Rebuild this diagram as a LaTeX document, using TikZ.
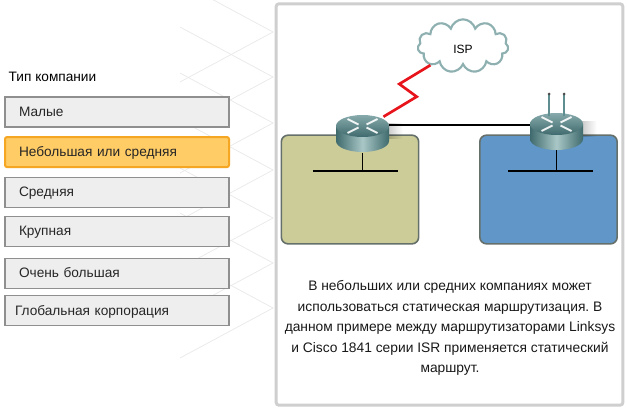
\documentclass[tikz,border=0pt]{standalone}
\usepackage{fontspec}
\setmainfont{Liberation Sans}
\usetikzlibrary{positioning, shapes.symbols, fadings}
\frenchspacing

\definecolor{panelgray}{HTML}{CFCFCF}
\definecolor{boxgray}{HTML}{EEEEEE}
\definecolor{boxline}{HTML}{8F8F8F}
\definecolor{picked}{HTML}{FFCC66}
\definecolor{pickedline}{HTML}{F5A623}
\definecolor{lanolive}{HTML}{CCCC99}
\definecolor{lanblue}{HTML}{6096C8}
\definecolor{lanline}{HTML}{66706A}
\definecolor{routerdark}{HTML}{3F6A6D}
\definecolor{routerlight}{HTML}{A9C7C6}
\definecolor{routertop}{HTML}{5F8E90}
\definecolor{cloudline}{HTML}{8FB0B0}
\definecolor{wanred}{HTML}{E8141C}

\tikzset{
    company/.style={draw=boxline, line width=0.9pt, fill=boxgray, minimum width=168pt, minimum height=22.5pt, font=\fontsize{10.25}{12}\selectfont, text=black!85, align=left, inner xsep=10.5pt, text width=147pt, text height=9pt, text depth=2.5pt},
    chosen/.style={company, draw=pickedline, fill=picked, rounded corners=1.5pt, line width=1.5pt},
    lan/.style={draw=lanline, line width=1.2pt, rounded corners=5pt, minimum width=103pt, minimum height=81.5pt},
    spot/.style={inner sep=0pt, minimum width=40pt, minimum height=28.5pt},
    wire/.style={line width=1.2pt, black},
    routerpic/.pic={
        \fill[black, opacity=.28, path fading=east] (20,-3) rectangle (40,13);
        \shade[left color=routerdark, right color=routerdark, middle color=routerlight] (-26.5,0) -- (-26.5,15) arc[start angle=180, end angle=0, x radius=26.5, y radius=11] -- (26.5,0) -- cycle;
        \shade[top color=routertop!75!white, bottom color=routerdark] (0,0) ellipse[x radius=26.5, y radius=11];
        \foreach \sx/\sy in {1/1, -1/1, 1/-1, -1/-1}
            \draw[white, line width=1.4pt, opacity=.9] (\sx*4,\sy*1.5) -- (\sx*15,\sy*7);
    },
}

\begin{document}
\begin{tikzpicture}[x=0.75pt, y=-0.75pt]
    \useasboundingbox (0,0) rectangle (627,410);
    \fill[white] (0,0) rectangle (627,410);

    % background lattice
    \foreach \ytip in {32,77,123,170,218,263,308}
        \draw[black!9, line width=0.5pt] (180,\ytip-50) -- (273,\ytip) -- (180,\ytip+50);

    % company list
    \node[anchor=west, font=\fontsize{10.25}{12}\selectfont] (title) at (4,77) {Тип компании};
    \node[company] (small) at (117,112) {Малые};
    \node[chosen, below=6.35pt of small] (medium) {Небольшая или средняя};
    \node[company, below=6.35pt of medium] (mid) {Средняя};
    \node[company, below=6pt of mid] (large) {Крупная};
    \node[company, below=8.25pt of large] (xlarge) {Очень большая};
    \node[company, below=4.5pt of xlarge, inner xsep=7.5pt, text width=153pt] (global) {Глобальная корпорация};

    % panel
    \node[draw=panelgray, line width=2.2pt, fill=white, rounded corners=2pt, minimum width=260pt, minimum height=301pt, inner sep=0pt] (panel) at (449.5,204.5) {};

    \node[lan, fill=lanolive] (lanA) at (350,189.5) {};
    \node[lan, fill=lanblue] (lanB) at (548.5,189.5) {};

    \node[cloud, cloud puffs=11, aspect=1.7, draw=cloudline, line width=1.6pt, fill=white, minimum width=68pt, minimum height=40pt] (isp) at (463,46) {};
    \node[font=\fontsize{9}{11}\selectfont] (ispname) at (463,49) {ISP};

    \node[spot] (routerA) at (362.5,134) {};
    \node[spot] (routerB) at (556.5,131) {};

    \coordinate (portA) at (389,125);
    \coordinate (portB) at (530,125);
    \coordinate (busA) at (362.5,171);
    \coordinate (busB) at (556.5,171);
    \coordinate (busAl) at (313,171);
    \coordinate (busAr) at (398,171);
    \coordinate (busBl) at (508,171);
    \coordinate (busBr) at (593,171);
    \coordinate (zigA) at (416.7,96.7);
    \coordinate (zigB) at (399.3,84);
    \coordinate (tipL) at (549,94);
    \coordinate (tipR) at (564,94);
    \coordinate (footL) at (549,116);
    \coordinate (footR) at (564,116);

    \pic at (362.5,126) {routerpic};
    \pic at (556.5,124) {routerpic};

    \draw[wire] (portA) -- (portB);
    \draw[wire] (routerA.south) -- (busA);
    \draw[wire] (routerB.south) -- (busB);
    \draw[wire] (busAl) -- (busAr);
    \draw[wire] (busBl) -- (busBr);
    \draw[wanred, line width=2pt] (routerA.north east) ++(-6,2) -- (zigA) -- (zigB) -- (isp.south west);
    \draw[routertop, line width=1.5pt] (footL) -- (tipL);
    \draw[routertop, line width=1.5pt] (footR) -- (tipR);
    \fill[black!70] (tipL) circle[radius=1.5];
    \fill[black!70] (tipR) circle[radius=1.5];

    \node[font=\fontsize{10.35}{15.4}\selectfont, align=center, text=black!90] (note) at (450,328) {В небольших или средних компаниях может\\использоваться статическая маршрутизация. В\\данном примере между маршрутизаторами Linksys\\и Cisco 1841 серии ISR применяется статический\\маршрут.};
\end{tikzpicture}
\end{document}
